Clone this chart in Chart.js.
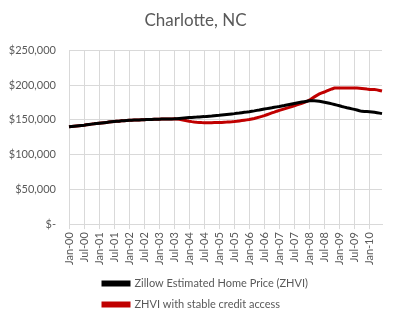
<!DOCTYPE html>
<html>
<head>
<meta charset="utf-8">
<script src="https://cdn.jsdelivr.net/npm/chart.js@4"></script>
<style>
    html, body { margin: 0; padding: 0; background: #ffffff; }
    #wrap { width: 394px; height: 322px; position: relative; }
</style>
</head>
<body>
<div id="wrap"><canvas id="priceChart"></canvas></div>
<script>
// Monthly labels Jan-00 .. Jun-10 (only every 6th is shown on the axis)
const monthNames = ['Jan', 'Feb', 'Mar', 'Apr', 'May', 'Jun', 'Jul', 'Aug', 'Sep', 'Oct', 'Nov', 'Dec'];
const startYear = 2000;
const monthCount = 126;

// Values in thousands of dollars, one per month
const zhvi = [
    140.0, 140.4, 140.8, 141.2, 141.6, 142.0, 142.4, 142.9, 143.4, 143.9, 144.3, 144.8,
    145.2, 145.6, 146.0, 146.4, 146.8, 147.2, 147.6, 147.9, 148.2, 148.6, 148.9, 149.2,
    149.5, 149.6, 149.8, 149.9, 150.0, 150.2, 150.3, 150.4, 150.5, 150.6, 150.8, 150.9,
    151.0, 151.1, 151.2, 151.2, 151.3, 151.4, 151.5, 151.8, 152.1, 152.4, 152.7, 153.0,
    153.3, 153.5, 153.8, 154.0, 154.3, 154.5, 154.7, 155.0, 155.3, 155.6, 156.0, 156.3,
    156.6, 157.0, 157.4, 157.8, 158.2, 158.6, 159.0, 159.5, 159.9, 160.4, 160.9, 161.3,
    161.8, 162.4, 163.0, 163.7, 164.3, 165.0, 165.6, 166.2, 166.8, 167.4, 168.1, 168.7,
    169.3, 170.0, 170.7, 171.5, 172.2, 172.9, 173.6, 174.3, 175.0, 175.6, 176.2, 176.8,
    177.4, 177.5, 177.4, 177.1, 176.7, 176.1, 175.5, 174.7, 173.9, 173.1, 172.2, 171.3,
    170.3, 169.3, 168.4, 167.5, 166.7, 165.9, 165.1, 164.2, 163.2, 162.3, 162.0, 161.9,
    161.8, 161.4, 160.9, 160.4, 159.7, 159.0
];

const zhviStableCredit = [
    140.0, 140.4, 140.8, 141.2, 141.6, 142.0, 142.4, 142.9, 143.4, 143.9, 144.3, 144.8,
    145.2, 145.6, 146.0, 146.4, 146.8, 147.2, 147.6, 147.9, 148.2, 148.6, 148.9, 149.2,
    149.5, 149.6, 149.8, 149.9, 150.0, 150.2, 150.3, 150.4, 150.5, 150.6, 150.8, 150.9,
    151.0, 151.1, 151.2, 151.2, 151.3, 151.4, 151.5, 151.4, 151.0, 150.3, 149.6, 148.8,
    148.1, 147.5, 147.0, 146.6, 146.3, 146.1, 146.0, 146.0, 146.0, 146.0, 146.1, 146.1,
    146.2, 146.4, 146.6, 146.8, 147.1, 147.3, 147.6, 148.0, 148.5, 149.0, 149.5, 150.0,
    150.5, 151.3, 152.1, 153.0, 154.0, 155.0, 156.1, 157.4, 158.7, 160.0, 161.2, 162.5,
    163.7, 164.8, 165.9, 167.0, 168.1, 169.2, 170.3, 171.5, 172.8, 174.0, 175.3, 176.8,
    178.3, 180.7, 183.1, 185.3, 187.3, 188.8, 190.1, 191.6, 193.1, 194.5, 195.8, 196.0,
    196.0, 196.0, 196.0, 196.0, 196.0, 195.9, 195.9, 195.8, 195.6, 195.3, 194.8, 194.3,
    193.9, 193.8, 193.6, 193.2, 192.4, 191.5
];

const seriesNames = ['Zillow Estimated Home Price (ZHVI)', 'ZHVI with stable credit access'];
const seriesColors = ['#000000', '#C00000'];

const labels = [];
for (let i = 0; i < monthCount; i++) {
    const yr = String((startYear + Math.floor(i / 12)) % 100).padStart(2, '0');
    labels.push(monthNames[i % 12] + '-' + yr);
}

const textColor = '#595959';
const gridColor = '#D9D9D9';
const fontFamily = 'Lato, Calibri, "Open Sans", sans-serif';

// Move the legend so the rows start under the plot, like the original
const legendShift = {
    id: 'legendShift',
    afterLayout(chart) {
        const lg = chart.legend;
        if (lg) {
            lg.left += 84;
            lg.right += 84;
        }
    }
};

new Chart(document.getElementById('priceChart').getContext('2d'), {
    type: 'line',
    data: {
        labels: labels,
        datasets: [
            {
                label: seriesNames[0],
                data: zhvi,
                borderColor: seriesColors[0],
                backgroundColor: seriesColors[0],
                borderWidth: 3,
                pointRadius: 0,
                tension: 0,
                fill: false
            },
            {
                label: seriesNames[1],
                data: zhviStableCredit,
                borderColor: seriesColors[1],
                backgroundColor: seriesColors[1],
                borderWidth: 3,
                pointRadius: 0,
                tension: 0,
                fill: false
            }
        ]
    },
    options: {
        responsive: true,
        maintainAspectRatio: false,
        animation: false,
        layout: {
            padding: { left: 9, right: 12, top: 6, bottom: 2 }
        },
        plugins: {
            title: {
                display: true,
                text: 'Charlotte, NC',
                color: textColor,
                font: { family: fontFamily, size: 17, weight: 'normal' },
                padding: { top: 4, bottom: 20 }
            },
            legend: {
                display: true,
                position: 'bottom',
                align: 'start',
                labels: {
                    color: textColor,
                    font: { family: fontFamily, size: 11 },
                    boxWidth: 26,
                    boxHeight: 3,
                    padding: 10
                }
            },
            tooltip: { enabled: false }
        },
        scales: {
            x: {
                offset: false,
                afterFit: function(scale) {
                    scale.paddingLeft = 0;
                    scale.paddingRight = 0;
                },
                grid: {
                    color: gridColor,
                    lineWidth: 1,
                    drawTicks: true,
                    tickLength: 5
                },
                border: { color: gridColor },
                ticks: {
                    autoSkip: false,
                    minRotation: 90,
                    maxRotation: 90,
                    color: textColor,
                    font: { family: fontFamily, size: 11 },
                    padding: 3,
                    callback: function(value, index) {
                        return index % 6 === 0 ? this.getLabelForValue(value) : null;
                    }
                }
            },
            y: {
                min: 0,
                max: 250,
                afterFit: function(scale) {
                    scale.width = 60;
                },
                grid: {
                    color: gridColor,
                    lineWidth: 1,
                    drawTicks: false
                },
                border: { display: false },
                ticks: {
                    stepSize: 50,
                    color: textColor,
                    font: { family: fontFamily, size: 11 },
                    padding: 13,
                    callback: function(value) {
                        return value === 0 ? '$-' : '$' + (value * 1000).toLocaleString('en-US');
                    }
                }
            }
        }
    },
    plugins: [legendShift]
});
</script>
</body>
</html>
